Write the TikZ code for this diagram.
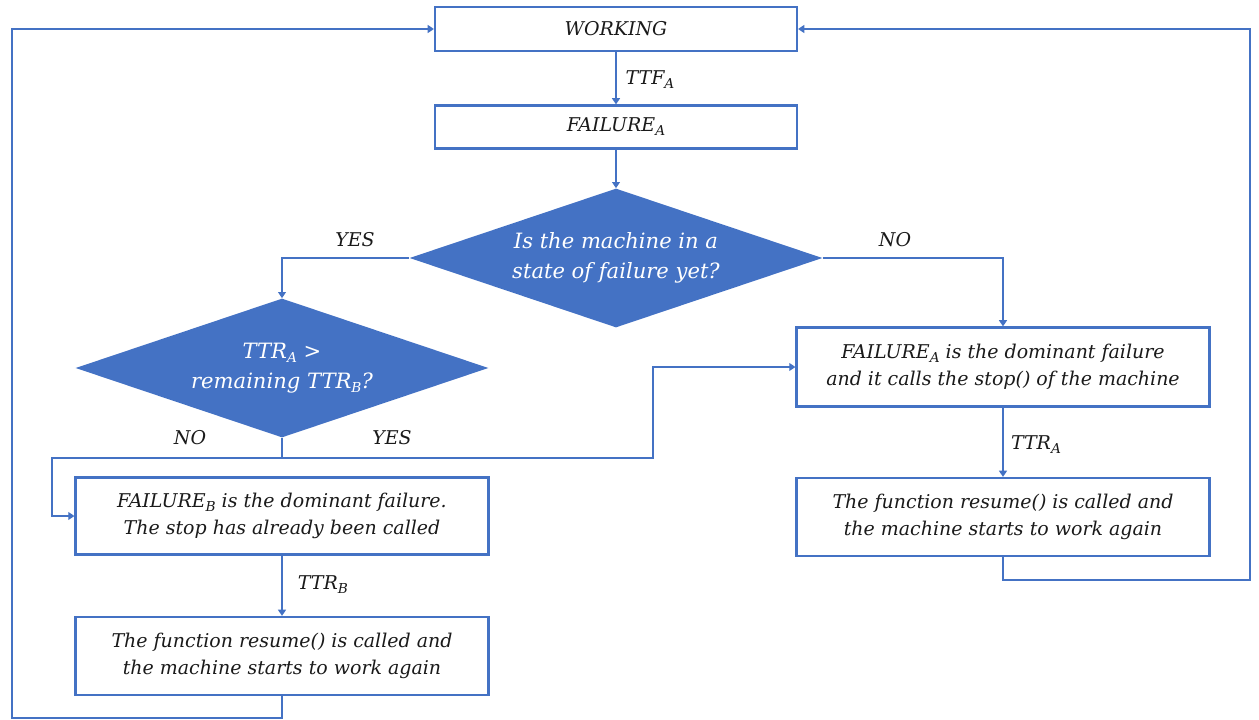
\documentclass[tikz,border=0pt]{standalone}
\usepackage{fontspec}
\setmainfont{DejaVu Serif}
\usetikzlibrary{arrows.meta,shapes.geometric}
\definecolor{flowblue}{HTML}{4472C4}
\definecolor{inkdark}{HTML}{1A1A1A}
\newcommand\lowidx[1]{\raisebox{-0.4ex}{\fontsize{7.8pt}{8pt}\selectfont #1}}
\tikzset{
  px/.style={x=0.02cm,y=-0.02cm},
  txt/.style={font=\fontsize{10.8pt}{15.5pt}\selectfont\itshape, text=inkdark, align=center},
  stepbox/.style={txt, draw=flowblue, line width=1.3pt, fill=white, inner sep=0pt},
  decision/.style={diamond, fill=flowblue, draw=none, inner sep=0pt, minimum width=8.26cm, minimum height=2.78cm},
  dtext/.style={font=\fontsize{12pt}{17pt}\selectfont\itshape, text=white, align=center},
  link/.style={draw=flowblue, line width=0.8pt},
  arr/.style={link, -{Triangle[width=4.5pt,length=3.5pt]}},
  tag/.style={txt, inner sep=1pt}
}
\begin{document}
\begin{tikzpicture}[px]
\useasboundingbox (0,0) rectangle (1259,720);

% process boxes
\node[stepbox, minimum width=7.24cm, minimum height=0.88cm] (work) at (616,29) {WORKING};
\node[stepbox, minimum width=7.24cm, minimum height=0.86cm] (failA) at (616,127) {FAILURE\lowidx{A}};
\node[stepbox, minimum width=8.26cm, minimum height=1.58cm] (domA) at (1003,367)
  {FAILURE\lowidx{A} is the dominant failure\\and it calls the stop() of the machine};
\node[stepbox, minimum width=8.26cm, minimum height=1.56cm] (resA) at (1003,517)
  {The function resume() is called and\\the machine starts to work again};
\node[stepbox, minimum width=8.26cm, minimum height=1.54cm] (failB) at (282,516)
  {FAILURE\lowidx{B} is the dominant failure.\\The stop has already been called};
\node[stepbox, minimum width=8.26cm, minimum height=1.56cm] (resB) at (282,656)
  {The function resume() is called and\\the machine starts to work again};

% decisions
\node[decision, label={[dtext]center:{Is the machine in a\\state of failure yet?}}] (d1) at (616,258) {};
\node[decision, label={[dtext]center:{TTR\lowidx{A} >\\remaining TTR\lowidx{B}?}}] (d2) at (282,368) {};

% bend points of the routed connectors
\coordinate (j) at (282,458);
\coordinate (jr) at (653,458);
\coordinate (jl) at (52,458);
\coordinate (ra) at (1003,580);
\coordinate (rr) at (1250,580);
\coordinate (rb) at (282,718);
\coordinate (rl) at (12,718);

% connectors
\draw[arr] (work) -- (failA);
\draw[arr] (failA) -- (d1);
\draw[arr] (d1.west) -| (d2.north);
\draw[arr] (d1.east) -| (domA.north);
\draw[link] (d2.south) -- (j);
\draw[arr] (j) -- (jr) |- (domA.west);
\draw[arr] (j) -- (jl) |- (failB.west);
\draw[arr] (domA) -- (resA);
\draw[arr] (failB) -- (resB);
\draw[arr] (resA.south) -- (ra) -- (rr) |- (work.east);
\draw[arr] (resB.south) -- (rb) -- (rl) |- (work.west);

% connector labels
\node[tag] (lttfa) at (650,80) {TTF\lowidx{A}};
\node[tag] (lyes1) at (355,240) {YES};
\node[tag] (lno1) at (895,240) {NO};
\node[tag] (lno2) at (190,438) {NO};
\node[tag] (lyes2) at (392,438) {YES};
\node[tag] (lttra) at (1036,445) {TTR\lowidx{A}};
\node[tag] (lttrb) at (323,585) {TTR\lowidx{B}};
\end{tikzpicture}
\end{document}
